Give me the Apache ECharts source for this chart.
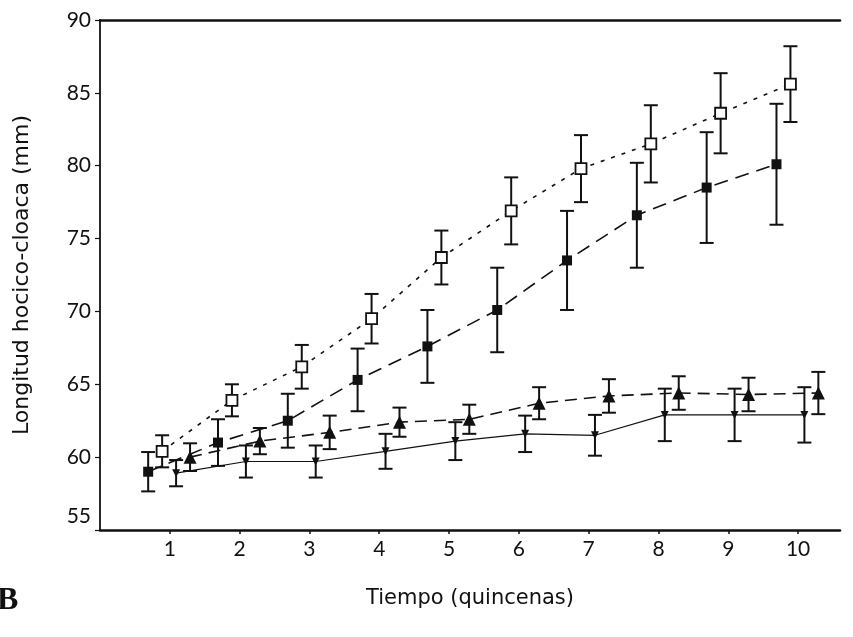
<!DOCTYPE html>
<html>
<head>
<meta charset="utf-8">
<script src="https://cdn.jsdelivr.net/npm/echarts@6/dist/echarts.min.js"></script>
<style>
  html, body { margin: 0; background: #fff; }
  #chart { width: 853px; height: 637px; }
</style>
</head>
<body>
<div id="chart"></div>
<script>
// quincenas on the x axis
const quincenas = [1, 2, 3, 4, 5, 6, 7, 8, 9, 10];
const yTicks = [55, 60, 65, 70, 75, 80, 85, 90];

// means and error half-widths (mm)
const openSqMean = [60.4, 63.9, 66.2, 69.5, 73.7, 76.9, 79.8, 81.5, 83.6, 85.6];
const openSqErr = [1.1, 1.1, 1.5, 1.7, 1.85, 2.3, 2.3, 2.65, 2.75, 2.6];
const filledSqMean = [59.0, 61.0, 62.5, 65.3, 67.6, 70.1, 73.5, 76.6, 78.5, 80.1];
const filledSqErr = [1.35, 1.6, 1.85, 2.15, 2.5, 2.9, 3.4, 3.6, 3.8, 4.15];
const triUpMean = [60.0, 61.1, 61.7, 62.4, 62.6, 63.7, 64.2, 64.4, 64.3, 64.4];
const triUpErr = [0.95, 0.9, 1.15, 1.0, 1.0, 1.1, 1.15, 1.15, 1.15, 1.45];
const triDownMean = [58.9, 59.7, 59.7, 60.4, 61.1, 61.6, 61.5, 62.9, 62.9, 62.9];
const triDownErr = [0.9, 1.1, 1.1, 1.2, 1.3, 1.25, 1.4, 1.8, 1.8, 1.9];

const ink = '#111';
const font = 'Lato';
const nameFont = 'DejaVu Sans';

const chart = echarts.init(document.getElementById('chart'));

// small horizontal dodge so the groups don't overlap
function points (mean, offset) {
  return quincenas.map((q, i) => [q + offset, mean[i]]);
}

function errorBars (mean, err, offset) {
  return {
    type: 'custom',
    silent: true,
    z: 2,
    encode: { x: 0, y: [1, 2] },
    data: quincenas.map((q, i) => [q + offset, mean[i] - err[i], mean[i] + err[i]]),
    renderItem: (params, api) => {
      const hi = api.coord([api.value(0), api.value(2)]);
      const lo = api.coord([api.value(0), api.value(1)]);
      const w = 7;
      const style = { stroke: ink, lineWidth: 2 };
      return {
        type: 'group',
        children: [
          { type: 'line', shape: { x1: hi[0], y1: hi[1], x2: lo[0], y2: lo[1] }, style },
          { type: 'line', shape: { x1: hi[0] - w, y1: hi[1], x2: hi[0] + w, y2: hi[1] }, style },
          { type: 'line', shape: { x1: lo[0] - w, y1: lo[1], x2: lo[0] + w, y2: lo[1] }, style }
        ]
      };
    }
  };
}

function lineSeries (mean, offset, symbol, extra) {
  return Object.assign({
    type: 'line',
    z: 3,
    silent: true,
    symbol: symbol,
    data: points(mean, offset),
    lineStyle: { color: ink, width: 1.5 },
    itemStyle: { color: ink }
  }, extra);
}

chart.setOption({
  animation: false,
  backgroundColor: '#fff',
  textStyle: { fontFamily: font, color: ink },
  grid: { left: 100, right: 13, top: 20, bottom: 107 },
  xAxis: [
    {
      type: 'value',
      min: 0,
      max: 10.6,
      interval: 1,
      splitLine: { show: false },
      axisLine: { lineStyle: { color: ink, width: 2.5 } },
      axisTick: { length: 4, customValues: quincenas, lineStyle: { color: ink, width: 1.5 } },
      axisLabel: { customValues: quincenas, color: ink, fontSize: 21, margin: 9, fontFamily: font },
      name: 'Tiempo (quincenas)',
      nameLocation: 'middle',
      nameGap: 58,
      nameTextStyle: { fontSize: 21, color: ink, fontFamily: nameFont }
    },
    {
      type: 'value',
      position: 'top',
      min: 0,
      max: 10.6,
      axisLine: { show: true, lineStyle: { color: ink, width: 2.5 } },
      axisTick: { show: false },
      axisLabel: { show: false },
      splitLine: { show: false }
    }
  ],
  yAxis: {
    type: 'value',
    min: 55,
    max: 90,
    interval: 5,
    splitLine: { show: false },
    axisLine: { show: true, lineStyle: { color: ink, width: 1.8 } },
    axisTick: { show: true, length: 5, customValues: yTicks, lineStyle: { color: ink, width: 1.2 } },
    axisLabel: {
      customValues: yTicks,
      color: ink,
      fontSize: 21,
      margin: 9,
      fontFamily: font,
      // the bottom label sits a little above its tick in the original
      formatter: (v) => v === yTicks[0] ? '{low|' + v + '}' : String(v),
      rich: { low: { fontSize: 21, fontFamily: font, color: ink, padding: [0, 0, 28, 0] } }
    },
    name: 'Longitud hocico-cloaca (mm)',
    nameLocation: 'middle',
    nameGap: 67,
    nameTextStyle: { fontSize: 22, color: ink, fontFamily: nameFont }
  },
  graphic: [
    {
      type: 'text',
      left: -3,
      top: 585,
      style: { text: 'B', font: 'bold 32px "Liberation Serif"', fill: ink }
    }
  ],
  series: [
    errorBars(filledSqMean, filledSqErr, -0.31),
    errorBars(openSqMean, openSqErr, -0.11),
    errorBars(triDownMean, triDownErr, 0.09),
    errorBars(triUpMean, triUpErr, 0.29),
    lineSeries(filledSqMean, -0.31, 'rect', {
      symbolSize: 10,
      lineStyle: { color: ink, width: 1.6, type: [14, 8] }
    }),
    lineSeries(openSqMean, -0.11, 'rect', {
      symbolSize: 11,
      lineStyle: { color: ink, width: 1.6, type: [4, 7] },
      itemStyle: { color: '#fff', borderColor: ink, borderWidth: 1.8 }
    }),
    lineSeries(triDownMean, 0.09, 'triangle', {
      symbolSize: 8,
      symbolRotate: 180,
      lineStyle: { color: ink, width: 1.2 }
    }),
    lineSeries(triUpMean, 0.29, 'triangle', {
      symbolSize: 13,
      lineStyle: { color: ink, width: 1.6, type: [12, 7] }
    })
  ]
});
</script>
</body>
</html>
